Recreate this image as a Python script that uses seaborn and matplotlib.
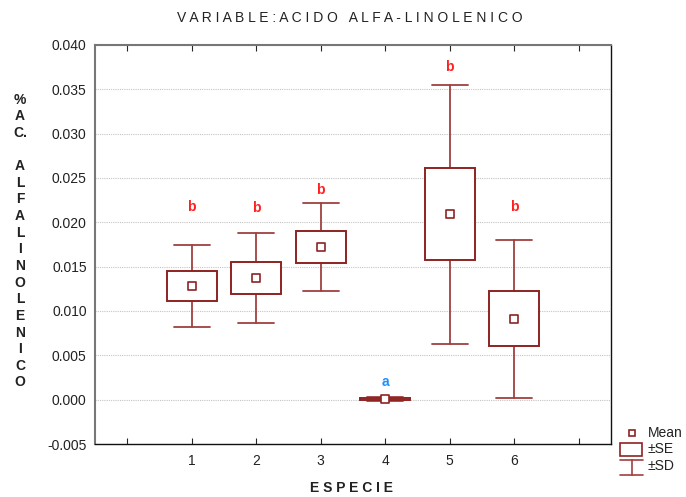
import numpy as np
import pandas as pd
import matplotlib
matplotlib.use("Agg")
import matplotlib.pyplot as plt
import seaborn as sns
from matplotlib.patches import Rectangle
from matplotlib.lines import Line2D

especie = [1, 2, 3, 4, 5, 6]
mean = [0.0128, 0.0137, 0.0172, 0.0001, 0.0209, 0.0091]
se = [0.0017, 0.0018, 0.0018, 0.0001, 0.0052, 0.0031]
sd = [0.0046, 0.0051, 0.0050, 0.0002, 0.0146, 0.0089]
letters = ["b", "b", "b", "a", "b", "b"]
letter_y = [0.0217, 0.0216, 0.0237, 0.0020, 0.0375, 0.0217]
letter_colors = ["#ff2020", "#ff2020", "#ff2020", "#1e90ff", "#ff2020", "#ff2020"]
yticks = [-0.005, 0.000, 0.005, 0.010, 0.015, 0.020, 0.025, 0.030, 0.035, 0.040]
legend_labels = ["Mean", "\u00b1SE", "\u00b1SD"]

df = pd.DataFrame({"especie": especie, "mean": mean, "se": se, "sd": sd})

sns.set_style("white")
plt.rcParams['font.family'] = ['Liberation Sans', 'DejaVu Sans']

W, H = 686, 497
fig = plt.figure(figsize=(W/100, H/100), dpi=100)
ax = fig.add_axes([95/W, 1-444/H, (611-95)/W, (444-45)/H])

box_col = "#8e2323"
wh_col = "#a04040"
box_w = 0.78
cap_w = 0.56

for _, r in df.iterrows():
    x, m, s, d = r["especie"], r["mean"], r["se"], r["sd"]
    ax.plot([x, x], [m + s, m + d], color=wh_col, lw=1.3, zorder=2)
    ax.plot([x, x], [m - s, m - d], color=wh_col, lw=1.3, zorder=2)
    ax.plot([x - cap_w/2, x + cap_w/2], [m + d, m + d], color=wh_col, lw=1.3, zorder=2)
    ax.plot([x - cap_w/2, x + cap_w/2], [m - d, m - d], color=wh_col, lw=1.3, zorder=2)
    ax.add_patch(Rectangle((x - box_w/2, m - s), box_w, 2*s, facecolor="white",
                           edgecolor=box_col, lw=1.4, zorder=3))

sns.scatterplot(data=df, x="especie", y="mean", marker="s", s=28, facecolor="white",
                edgecolor=box_col, linewidth=1.2, ax=ax, zorder=4, legend=False)

for x, ly, t, c in zip(especie, letter_y, letters, letter_colors):
    ax.text(x, ly, t, color=c, fontsize=10, fontweight="bold",
            ha="center", va="center")

ax.set_xlim(-0.5, 7.5)
ax.set_ylim(-0.005, 0.040)
ax.set_xticks(range(0, 8))
ax.set_xticklabels(["", "1", "2", "3", "4", "5", "6", ""])
ax.set_yticks(yticks)
ax.set_yticklabels([f"{v:.3f}" for v in yticks])
ax.tick_params(axis="x", direction="in", length=4, top=True, bottom=True,
               labelsize=10, labelcolor="#222222", pad=7)
ax.tick_params(axis="y", length=0, labelsize=10, labelcolor="#222222", pad=6)
ax.yaxis.grid(True, color="#c4c4c4", linestyle=(0, (1, 1)), lw=0.8)
ax.set_axisbelow(True)
for side in ["left", "top"]:
    ax.spines[side].set_color("#777777")
    ax.spines[side].set_linewidth(1.5)
for side in ["right", "bottom"]:
    ax.spines[side].set_color("#111111")
    ax.spines[side].set_linewidth(1.0)
ax.set_xlabel("")
ax.set_ylabel("")

fig.text(350/W, 1-18/H, "V A R I A B L E : A C I D O   A L F A - L I N O L E N I C O",
         ha="center", va="center", fontsize=10, color="#222222")
fig.text(352/W, 1-488/H, "E S P E C I E", ha="center", va="center",
         fontsize=10, fontweight="bold", color="#222222")
ylab = "%\nA\nC.\n\nA\nL\nF\nA\nL\nI\nN\nO\nL\nE\nN\nI\nC\nO"
fig.text(20/W, 1-241/H, ylab, ha="center", va="center", fontsize=10,
         fontweight="bold", color="#222222", linespacing=1.24)

# legend drawn in figure pixel coordinates
def fx(px):
    return px / W
def fy(py):
    return 1 - py / H

fig.add_artist(Line2D([fx(632)], [fy(433)], marker="s", markersize=5,
                      markerfacecolor="white", markeredgecolor=box_col,
                      markeredgewidth=1.2, ls="none", transform=fig.transFigure))
fig.add_artist(Rectangle((fx(620), fy(456)), fx(642) - fx(620), fy(443) - fy(456),
                         facecolor="white", edgecolor=box_col, lw=1.2,
                         transform=fig.transFigure))
for seg in [((620, 643), (460, 460)), ((620, 643), (475, 475)), ((632, 632), (460, 475))]:
    fig.add_artist(Line2D([fx(v) for v in seg[0]], [fy(v) for v in seg[1]],
                          color=wh_col, lw=1.2, transform=fig.transFigure))
for lab, py in zip(legend_labels, [433, 449, 466]):
    fig.text(fx(648), fy(py), lab, ha="left", va="center", fontsize=10, color="#222222")

fig.savefig("out.png", dpi=100)
